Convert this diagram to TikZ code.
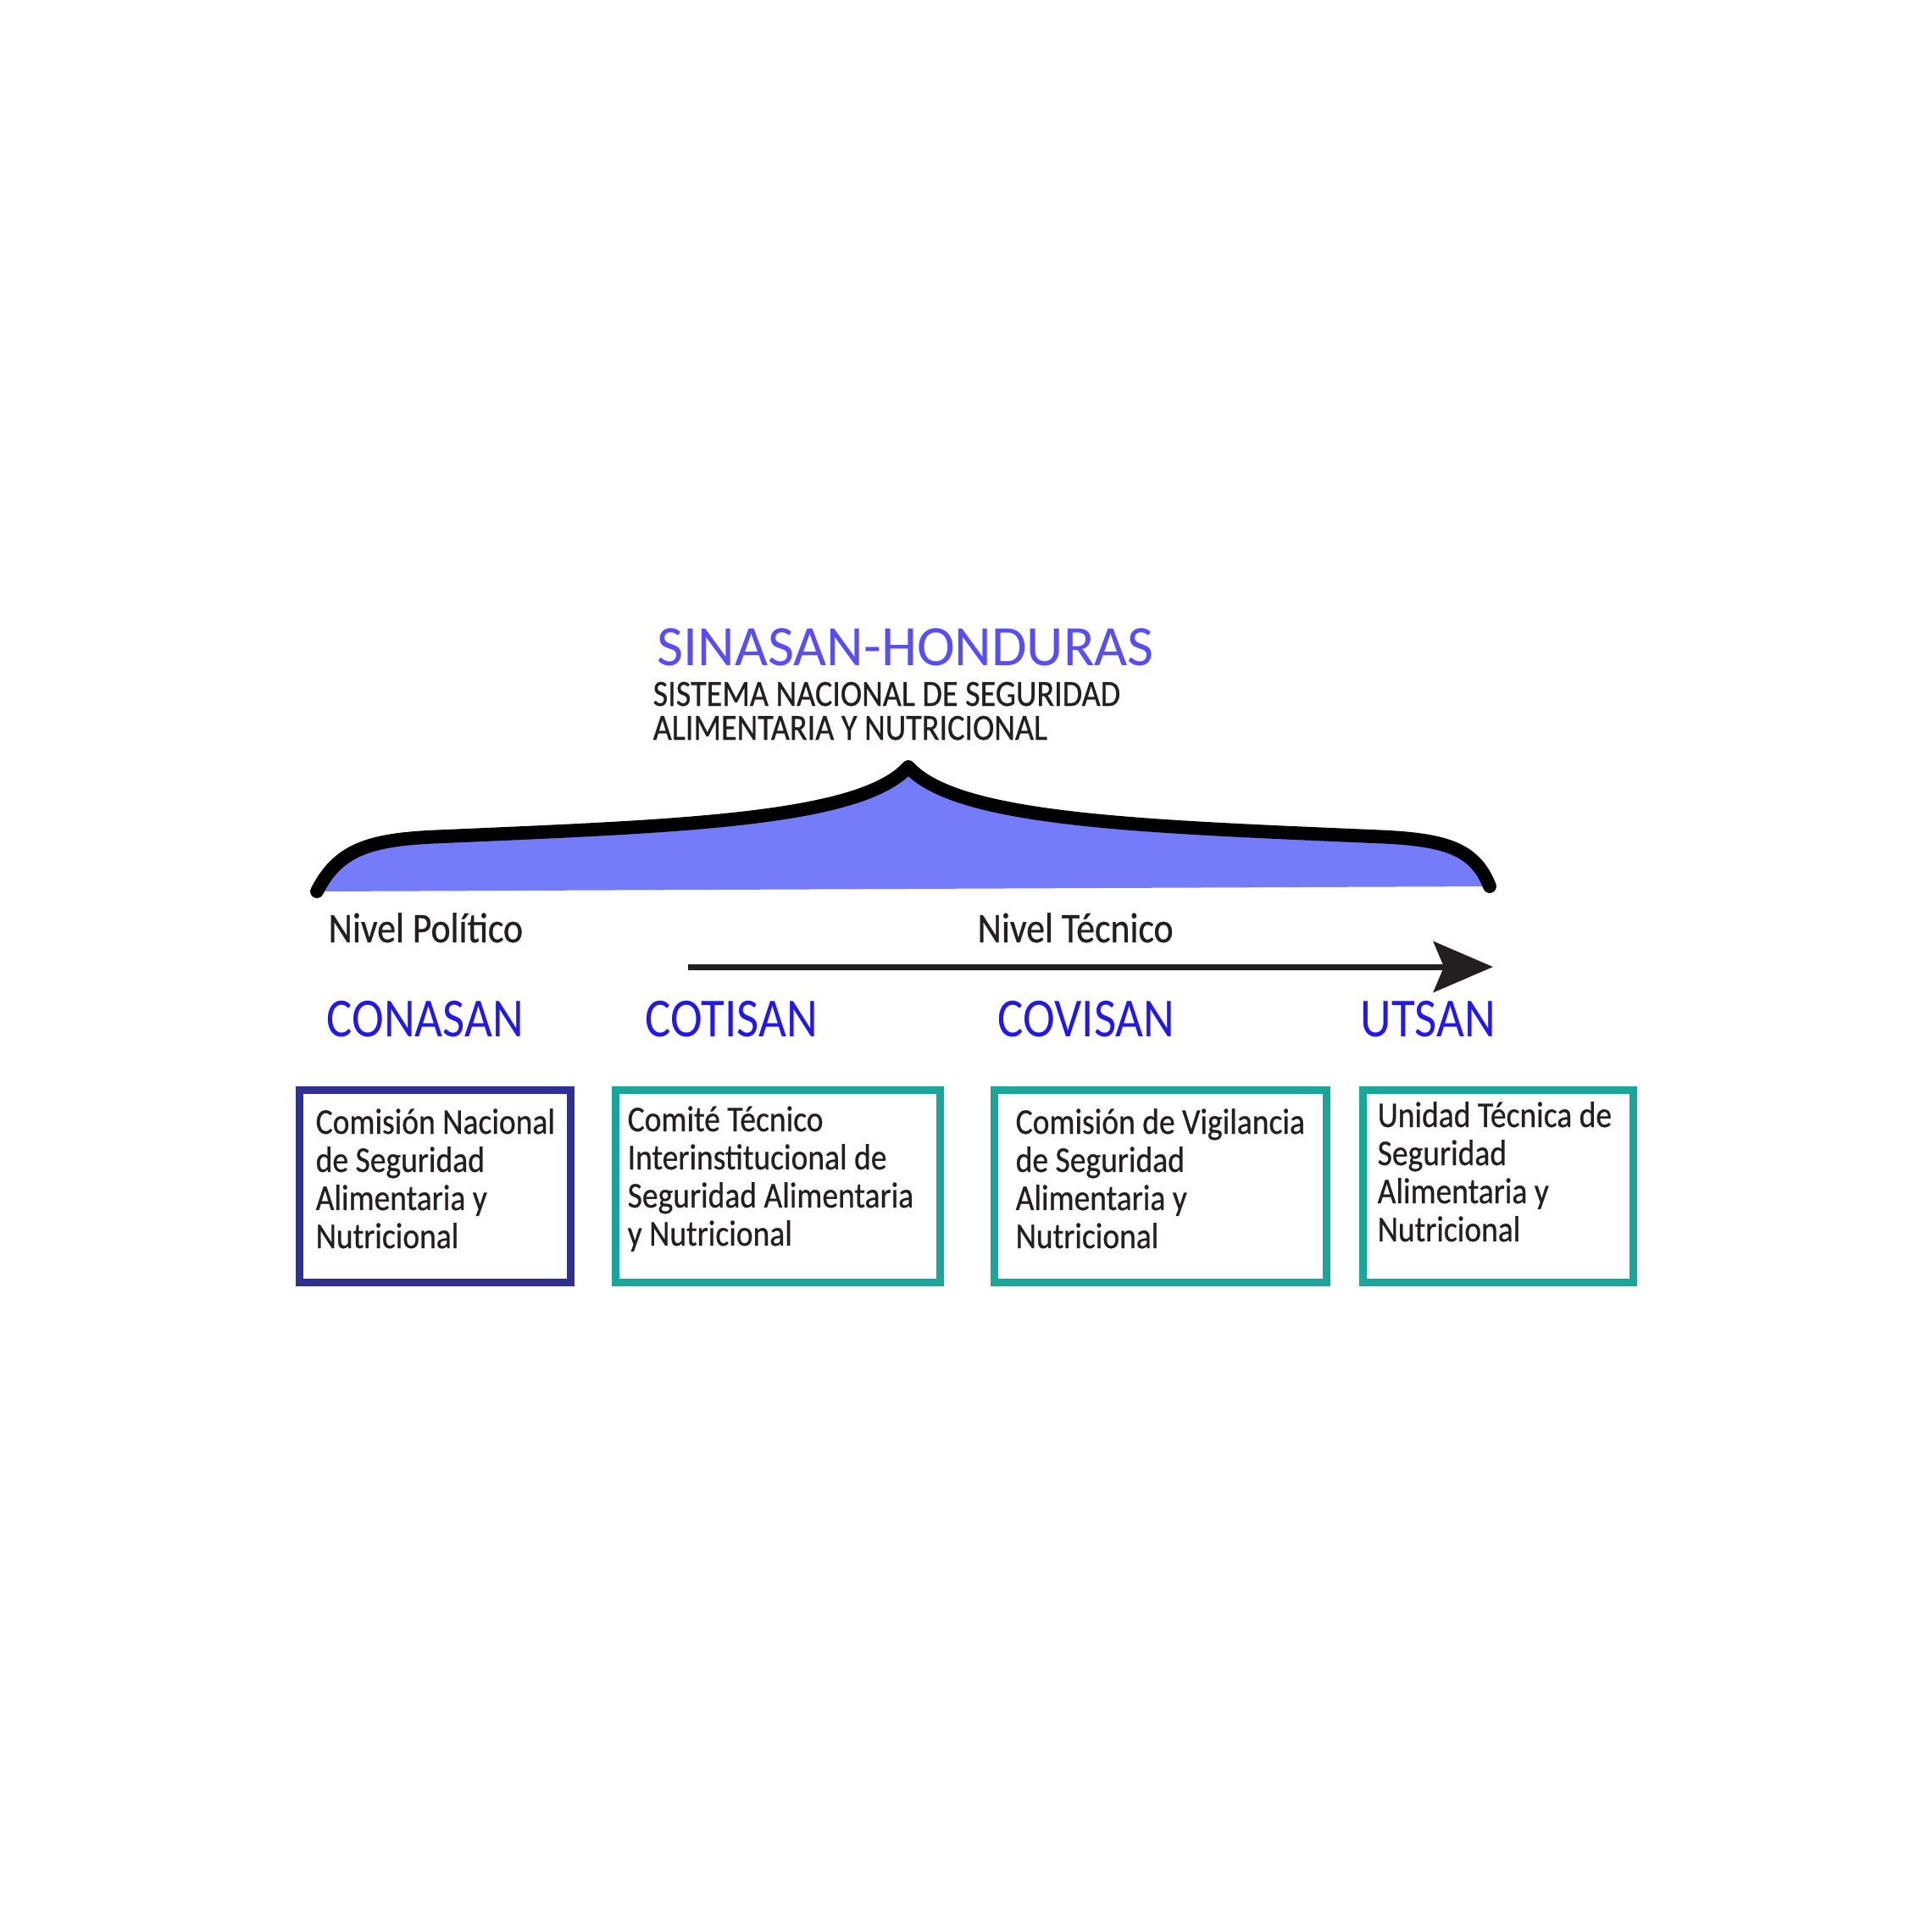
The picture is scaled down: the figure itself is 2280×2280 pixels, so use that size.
\documentclass[tikz,border=0pt]{standalone}
\usepackage{fontspec}
\setmainfont{Carlito}
\newfontfamily\fA{Carlito}
\newfontfamily\fC[FakeStretch=0.875]{Carlito}
\newfontfamily\fD[FakeStretch=0.875,FakeBold=0.6]{Carlito}
\usetikzlibrary{arrows.meta}
\definecolor{titleblue}{RGB}{88,78,242}
\definecolor{labelblue}{RGB}{35,25,230}
\definecolor{bracefill}{RGB}{116,124,250}
\definecolor{navybox}{RGB}{46,49,146}
\definecolor{tealbox}{RGB}{26,166,154}
\definecolor{ink}{RGB}{35,31,32}
\setlength\lineskiplimit{-20pt}
\begin{document}
\begin{tikzpicture}[x=0.1mm,y=-0.1mm,
  cbox/.style={draw, line width=2.56pt, inner sep=0, minimum height=22.7mm},
  boxtext/.style={anchor=base west, inner sep=0, text=ink, font=\fD\fontsize{12.2pt}{12.8pt}\selectfont},
  orglabel/.style={anchor=base west, inner sep=0, text=labelblue, font=\fC\fontsize{18.5pt}{20pt}\selectfont},
  nivel/.style={anchor=base west, inner sep=0, text=ink, font=\fD\fontsize{14.2pt}{16pt}\selectfont},
  bracestroke/.style={line width=4.5pt, line cap=round, line join=round, draw=black},
  arr/.style={line width=2pt, draw=ink, -{Stealth[length=20pt,width=17pt,inset=3.5pt]}}
]
\useasboundingbox (0,0) rectangle (2280,2280);

% title
\node[anchor=base west, inner sep=0, text=titleblue, font=\fA\fontsize{19.2pt}{20pt}\selectfont] (title) at (775,785) {SINASAN-HONDURAS};
\node[anchor=base west, inner sep=0, text=ink, font=\fD\fontsize{12.4pt}{11.4pt}\selectfont] (subtitle) at (770,833)
  {\parbox[t]{70mm}{\raggedright SISTEMA NACIONAL DE SEGURIDAD\\ALIMENTARIA Y NUTRICIONAL}};

% brace
\fill[bracefill] (374,1052) .. controls (400,1000) and (440,990) .. (525,987)
  .. controls (800,975) and (1015,968) .. (1072,905)
  .. controls (1129,968) and (1344,975) .. (1619,987)
  .. controls (1704,990) and (1740,1000) .. (1758,1046) -- cycle;
\draw[bracestroke] (374,1052) .. controls (400,1000) and (440,990) .. (525,987)
  .. controls (800,975) and (1015,968) .. (1072,905)
  .. controls (1129,968) and (1344,975) .. (1619,987)
  .. controls (1704,990) and (1740,1000) .. (1758,1046);

% levels
\node[nivel] (npol) at (387,1112) {Nivel Político};
\node[nivel] (ntec) at (1153,1112) {Nivel Técnico};
\coordinate (as) at (812,1141);
\coordinate (ae) at (1762,1141);
\draw[arr] (as) -- (ae);

% labels
\node[orglabel] (conasan) at (385,1223) {CONASAN};
\node[orglabel] (cotisan) at (761,1223) {COTISAN};
\node[orglabel] (covisan) at (1177,1223) {COVISAN};
\node[orglabel] (utsan) at (1605,1223) {UTSAN};

% boxes
\node[cbox, draw=navybox, minimum width=32mm] (b1) at (513.5,1400) {};
\node[cbox, draw=tealbox, minimum width=38.3mm] (b2) at (918,1400) {};
\node[cbox, draw=tealbox, minimum width=39.2mm] (b3) at (1369.5,1400) {};
\node[cbox, draw=tealbox, minimum width=31.9mm] (b4) at (1768,1400) {};

\node[boxtext] (t1) at (372,1338) {\parbox[t]{32mm}{\raggedright Comisión Nacional\\de Seguridad\\Alimentaria y\\Nutricional}};
\node[boxtext] (t2) at (740,1335) {\parbox[t]{37mm}{\raggedright Comité Técnico\\Interinstitucional de\\Seguridad Alimentaria\\y Nutricional}};
\node[boxtext] (t3) at (1198,1338) {\parbox[t]{37mm}{\raggedright Comisión de Vigilancia\\de Seguridad\\Alimentaria y\\Nutricional}};
\node[boxtext] (t4) at (1625,1330) {\parbox[t]{30mm}{\raggedright Unidad Técnica de\\Seguridad\\Alimentaria y\\Nutricional}};
\end{tikzpicture}
\end{document}
